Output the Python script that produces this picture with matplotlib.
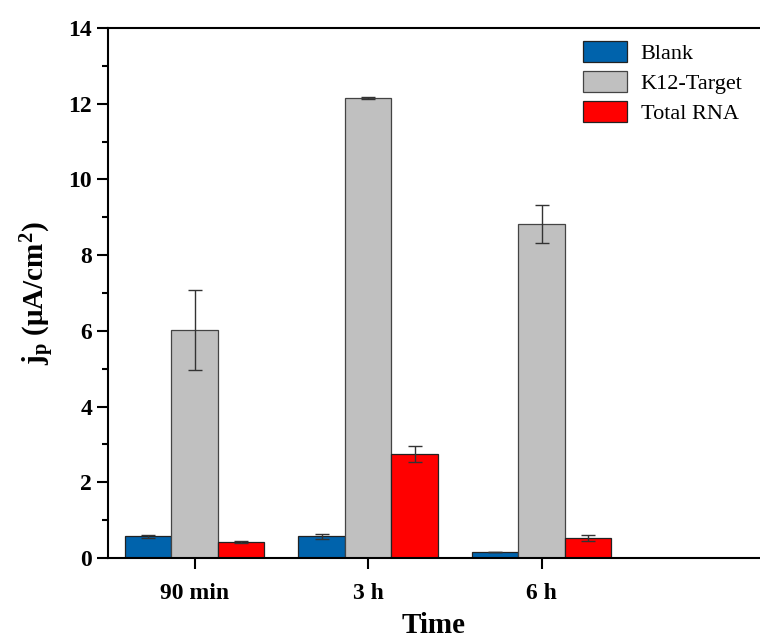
import numpy as np
import matplotlib
matplotlib.use('Agg')
import matplotlib.pyplot as plt
from matplotlib.ticker import MultipleLocator

plt.rcParams['font.family'] = ['Liberation Serif', 'DejaVu Serif']
plt.rcParams['mathtext.default'] = 'regular'

# data
times = ['90 min', '3 h', '6 h']
blank = [0.57, 0.57, 0.17]
blank_err = [0.03, 0.06, 0.0]
k12 = [6.02, 12.15, 8.82]
k12_err = [1.05, 0.02, 0.50]
total_rna = [0.42, 2.75, 0.53]
total_rna_err = [0.03, 0.21, 0.07]

fig = plt.figure(figsize=(7.6, 6.42), dpi=100)
ax = fig.add_axes([108/760, 1-558/642, 1-108/760, (558-28)/642])

x = np.arange(len(times))
w = 0.268
ekw = dict(elinewidth=1.0, capthick=1.0, ecolor='#333333')
ax.bar(x - w, blank, w, yerr=blank_err, capsize=5, color='#0063AC',
       edgecolor='#222222', linewidth=0.9, label='Blank', error_kw=ekw)
ax.bar(x, k12, w, yerr=k12_err, capsize=5, color='#C0C0C0',
       edgecolor='#444444', linewidth=0.9, label='K12-Target', error_kw=ekw)
ax.bar(x + w, total_rna, w, yerr=total_rna_err, capsize=5, color='#FF0000',
       edgecolor='#222222', linewidth=0.9, label='Total RNA', error_kw=ekw)

ax.set_xlim(-0.5, 3.26)
ax.set_ylim(0, 14)
ax.set_xticks(x)
ax.set_xticklabels(times, fontsize=17, fontweight='bold')
ax.yaxis.set_major_locator(MultipleLocator(2))
ax.yaxis.set_minor_locator(MultipleLocator(1))
for lab in ax.get_yticklabels():
    lab.set_fontsize(17)
    lab.set_fontweight('bold')
ax.tick_params(axis='both', which='major', direction='out', length=8, width=1.5)
ax.tick_params(axis='y', which='minor', direction='out', length=4, width=1.5)
ax.tick_params(axis='x', pad=10)

ax.spines['right'].set_visible(False)
for s in ['left', 'bottom', 'top']:
    ax.spines[s].set_linewidth(1.5)

ax.set_xlabel('Time', fontsize=21, fontweight='bold', labelpad=6)
ax.set_ylabel('j$_{p}$ (μA/cm$^{2}$)', fontsize=21, fontweight='bold', labelpad=8)

ax.legend(loc='upper right', bbox_to_anchor=(1.004, 1.013), frameon=False,
          fontsize=16, handlelength=2.0, handleheight=1.1, labelspacing=0.3,
          handletextpad=0.6)

fig.savefig('out.png', dpi=100)
